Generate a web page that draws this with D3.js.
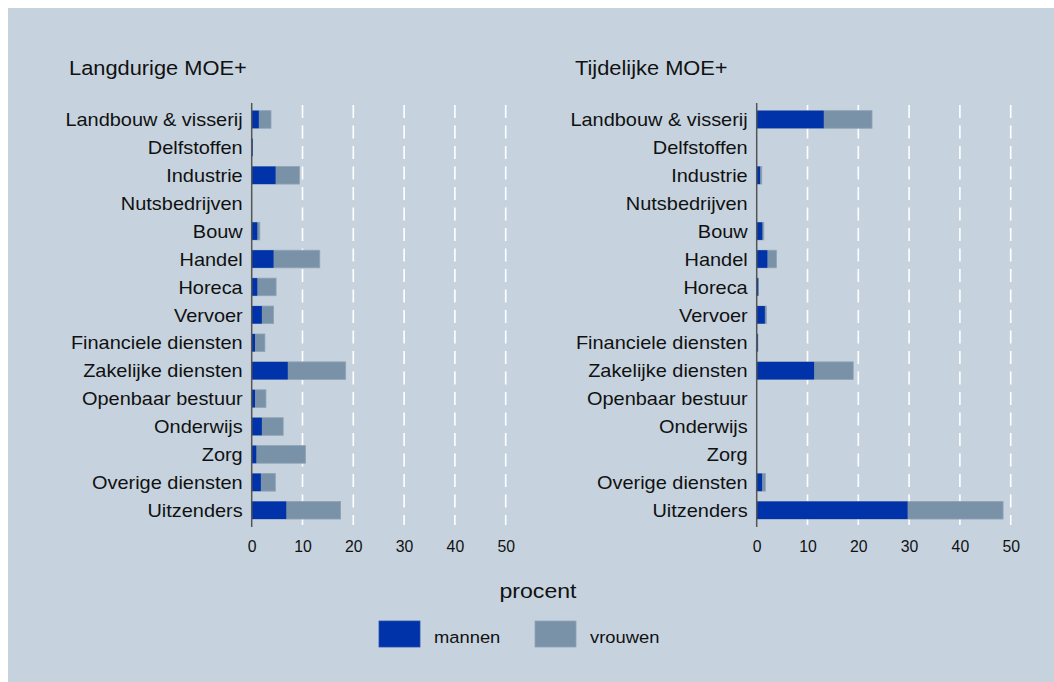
<!DOCTYPE html>
<html>
<head>
<meta charset="utf-8">
<script src="https://cdn.jsdelivr.net/npm/d3@7"></script>
<style>
  body { margin: 0; background: #fff; }
  svg { display: block; font-family: "Liberation Sans", Arial, sans-serif; }
</style>
</head>
<body>
<svg width="1054" height="682"></svg>
<script>
const sectors = [
  "Landbouw & visserij", "Delfstoffen", "Industrie", "Nutsbedrijven", "Bouw",
  "Handel", "Horeca", "Vervoer", "Financiele diensten", "Zakelijke diensten",
  "Openbaar bestuur", "Onderwijs", "Zorg", "Overige diensten", "Uitzenders",
];
// percentages per sector
const langMannen = [1.4, 0.2, 4.7, 0.05, 1.1, 4.3, 1.1, 2.0, 0.65, 7.1, 0.65, 2.0, 0.9, 1.8, 6.8];
const langVrouwen = [2.4, 0.0, 4.7, 0.0, 0.5, 9.1, 3.7, 2.3, 1.95, 11.4, 2.15, 4.2, 9.7, 2.85, 10.7];
const tijdMannen = [13.2, 0.0, 0.65, 0.0, 1.1, 2.1, 0.3, 1.6, 0.2, 11.3, 0.0, 0.0, 0.0, 1.05, 29.7];
const tijdVrouwen = [9.5, 0.0, 0.35, 0.0, 0.3, 1.8, 0.05, 0.3, 0.05, 7.7, 0.0, 0.0, 0.0, 0.65, 18.8];
const xTicks = [0, 10, 20, 30, 40, 50];
const titles = ["Langdurige MOE+", "Tijdelijke MOE+"];
const legendLabels = ["mannen", "vrouwen"];

const colors = { mannen: "#0033aa", vrouwen: "#7a92a8" };

const svg = d3.select("svg");

// the original text is a bit wider than Arial, so stretch it horizontally
function stretchedText(parent, x, y, s, size, str, anchor) {
  return parent.append("text")
    .attr("transform", "translate(" + x + "," + y + ") scale(" + s + ",1)")
    .attr("text-anchor", anchor || "start")
    .style("font-size", size + "px")
    .attr("fill", "#111")
    .text(str);
}

// background panel
svg.append("rect")
  .attr("x", 8).attr("y", 8)
  .attr("width", 1054 - 8).attr("height", 682 - 8)
  .attr("fill", "#c6d3df");

const y = d3.scaleBand()
  .domain(sectors)
  .range([105.5, 524.2])
  .paddingInner(0.37)
  .paddingOuter(0.185);

const panels = [
  { title: titles[0], x0: 251.7, titleX: 69, mannen: langMannen, vrouwen: langVrouwen },
  { title: titles[1], x0: 756.7, titleX: 575, mannen: tijdMannen, vrouwen: tijdVrouwen },
];

const labelStretch = 1.14;

panels.forEach(function (p) {
  const x = d3.scaleLinear().domain([0, 50]).range([p.x0, p.x0 + 254]);
  const g = svg.append("g");

  // Title
  stretchedText(g, p.titleX, 75, 1.12, 19.5, p.title);

  // Dashed grid lines
  g.append("g")
    .selectAll("line")
    .data(xTicks.filter((t) => t > 0))
    .enter()
    .append("line")
    .attr("x1", (d) => x(d))
    .attr("x2", (d) => x(d))
    .attr("y1", 105)
    .attr("y2", 525)
    .attr("stroke", "#fff")
    .attr("stroke-width", 1.6)
    .attr("stroke-dasharray", "13,7.5");

  const rows = sectors.map((s, i) => ({ s: s, m: p.mannen[i], v: p.vrouwen[i] }));

  // Stacked bars
  g.append("g")
    .selectAll("rect")
    .data(rows)
    .enter()
    .append("rect")
    .attr("x", x(0))
    .attr("y", (d) => y(d.s))
    .attr("width", (d) => x(d.m + d.v) - x(0))
    .attr("height", y.bandwidth())
    .attr("fill", colors.vrouwen)
    .attr("stroke", "#8ea3b6")
    .attr("stroke-width", (d) => (d.v > 0 ? 0.8 : 0));

  g.append("g")
    .selectAll("rect")
    .data(rows)
    .enter()
    .append("rect")
    .attr("x", x(0))
    .attr("y", (d) => y(d.s))
    .attr("width", (d) => x(d.m) - x(0))
    .attr("height", y.bandwidth())
    .attr("fill", colors.mannen);

  // Y axis (category labels)
  const yAxis = g.append("g")
    .attr("transform", "translate(" + x(0) + ",0)")
    .call(d3.axisLeft(y).tickSize(0).tickPadding(9));
  yAxis.select(".domain").remove();
  yAxis.selectAll("text")
    .attr("x", -9 / labelStretch)
    .attr("dy", "0.38em")
    .attr("transform", "scale(" + labelStretch + ",1)")
    .style("font-size", "17.5px")
    .style("font-family", "Liberation Sans, Arial, sans-serif")
    .attr("fill", "#111");

  g.append("line")
    .attr("x1", x(0)).attr("x2", x(0))
    .attr("y1", 103).attr("y2", 527)
    .attr("stroke", "#555")
    .attr("stroke-width", 1.5);

  // X axis
  const xAxis = g.append("g")
    .attr("transform", "translate(0,540.5)")
    .call(d3.axisBottom(x).tickValues(xTicks).tickSize(0).tickPadding(0));
  xAxis.select(".domain").remove();
  xAxis.selectAll("text")
    .style("font-size", "15.8px")
    .style("font-family", "Liberation Sans, Arial, sans-serif")
    .attr("fill", "#111");
});

// X label
stretchedText(svg, 538, 598, 1.1, 21, "procent", "middle");

// Legend
const legend = svg.append("g");
const legendX = [379, 535];
legendLabels.forEach(function (lab, i) {
  legend.append("rect")
    .attr("x", legendX[i])
    .attr("y", 621)
    .attr("width", 41)
    .attr("height", 26)
    .attr("fill", colors[lab])
    .attr("stroke", i === 0 ? "#2a4fb0" : "#8ea3b6")
    .attr("stroke-width", 0.8);
  stretchedText(legend, legendX[i] + 55, 642.5, 1.08, 17, lab);
});
</script>
</body>
</html>
